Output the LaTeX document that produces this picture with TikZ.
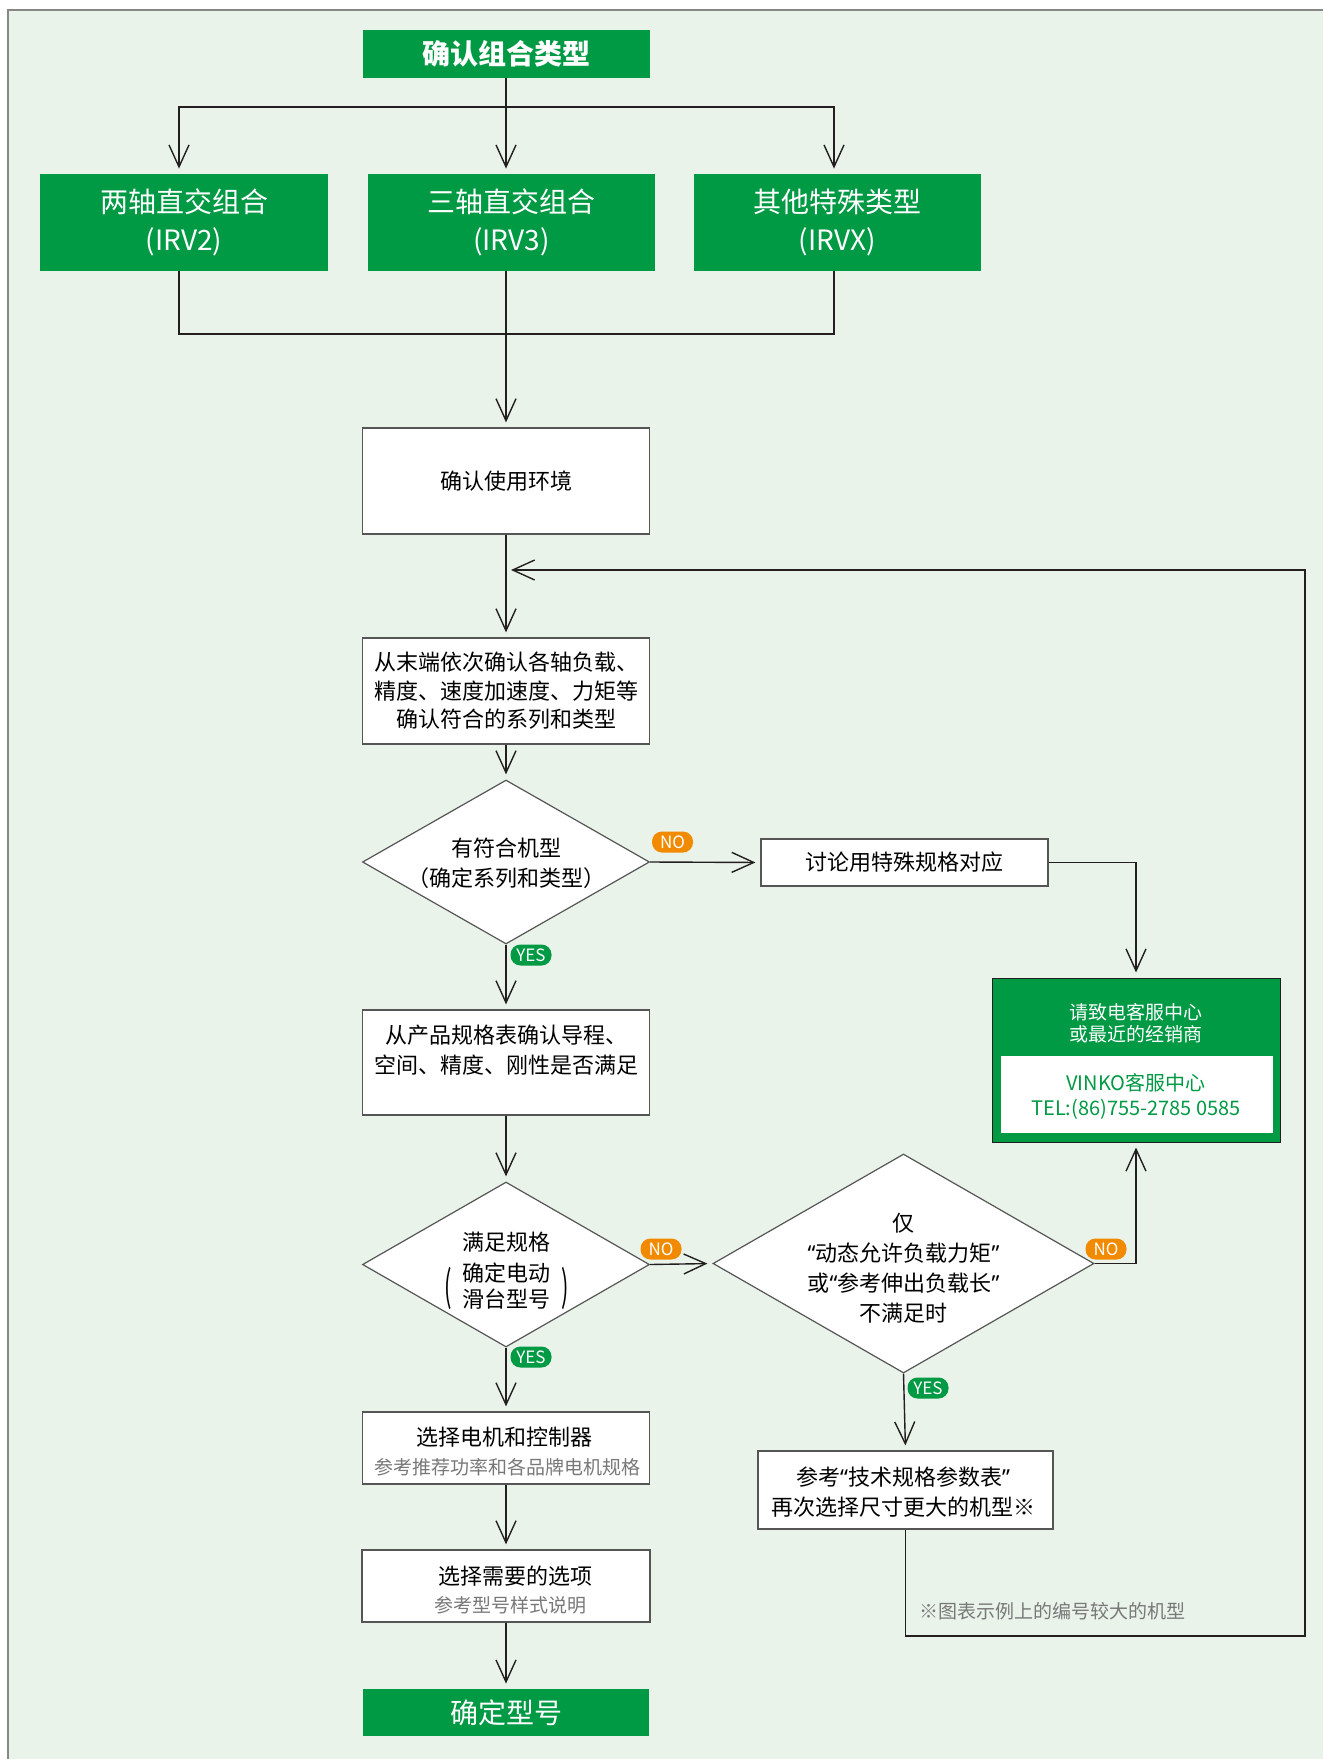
\documentclass[tikz,border=0pt]{standalone}
\usepackage{fontspec}
\setmainfont{Noto Sans CJK SC}
\newfontfamily\qfont{Noto Sans}
\usepackage{graphicx}
\usetikzlibrary{arrows.meta,shapes.geometric}
\definecolor{bggreen}{RGB}{233,243,233}
\definecolor{vgreen}{RGB}{0,153,68}
\definecolor{vorange}{RGB}{242,138,0}
\definecolor{framegray}{RGB}{135,135,135}
\definecolor{boxgray}{RGB}{85,85,85}
\definecolor{subgray}{RGB}{120,120,120}
\definecolor{linek}{RGB}{35,31,32}
\newcommand\myoq{{\qfont “}}
\newcommand\mycq{{\qfont ”}}
\begin{document}
\begin{tikzpicture}[x=0.5pt,y=-0.5pt,
  conn/.style={draw=linek,line width=0.7pt},
  arr/.style={conn,-{Straight Barb[length=11pt,width=10pt]},shorten >=2.5pt},
  wbox/.style={draw=boxgray,line width=0.6pt,fill=white,inner sep=0pt},
  gbox/.style={fill=vgreen,inner sep=0pt,text=white},
  dia/.style={diamond,draw=boxgray,line width=0.6pt,fill=white,inner sep=0pt},
  txt/.style={inner sep=0pt,align=center,font=\fontsize{11pt}{15pt}\selectfont},
  subtxt/.style={inner sep=0pt,align=center,text=subgray,font=\fontsize{9.5pt}{12pt}\selectfont},
  pill/.style={rounded corners=5pt,minimum width=20.5pt,minimum height=10.5pt,inner sep=0pt,text=white,font=\fontsize{8.5pt}{8.5pt}\selectfont},
  nolab/.style={pill,fill=vorange},
  yeslab/.style={pill,fill=vgreen}]
\useasboundingbox (0,0) rectangle (1323,1759);
\fill[bggreen] (8,10) rectangle (1323,1759);
\draw[framegray,line width=0.75pt] (8,1759) -- (8,10) -- (1323,10);

% top part
\node[gbox,minimum width=143.5pt,minimum height=24pt,font=\bfseries\fontsize{14pt}{14pt}\selectfont] (top) at (506,54) {确认组合类型};
\node[gbox,minimum width=144pt,minimum height=48.5pt,align=center,font=\fontsize{14pt}{19pt}\selectfont] (irv2) at (184,222.5) {两轴直交组合\\(IRV2)};
\node[gbox,minimum width=143.5pt,minimum height=48.5pt,align=center,font=\fontsize{14pt}{19pt}\selectfont] (irv3) at (511.5,222.5) {三轴直交组合\\(IRV3)};
\node[gbox,minimum width=143.5pt,minimum height=48.5pt,align=center,font=\fontsize{14pt}{19pt}\selectfont] (irvx) at (837.5,222.5) {其他特殊类型\\(IRVX)};

\coordinate (j1) at (506,107);
\coordinate (j2) at (506,334);
\draw[conn] (top.south) -- (j1);
\draw[arr] (j1) -| ([xshift=-2.5pt]irv2.north);
\draw[arr] (j1) -- ([xshift=-2.75pt]irv3.north);
\draw[arr] (j1) -| ([xshift=-1.75pt]irvx.north);
\draw[conn] ([xshift=-2.5pt]irv2.south) |- (j2);
\draw[conn] ([xshift=-1.75pt]irvx.south) |- (j2);
\draw[conn] ([xshift=-2.75pt]irv3.south) -- (j2);

% main column
\node[wbox,minimum width=143.5pt,minimum height=53pt,txt] (env) at (506,481) {确认使用环境};
\draw[arr] (j2) -- (env.north);

\node[wbox,minimum width=143.5pt,minimum height=53pt,txt,font=\fontsize{11pt}{14.3pt}\selectfont] (check) at (506,691) {从末端依次确认各轴负载、\\精度、速度加速度、力矩等\\确认符合的系列和类型};
\coordinate (loopin) at (506,570);
\draw[arr] (env.south) -- (check.north);

\node[dia,minimum width=143.5pt,minimum height=82pt] (d1) at (506,862) {};
\node[txt] (d1t) at (506,863) {有符合机型\\（确定系列和类型）};
\draw[arr] (check.south) -- (d1.north);

\node[wbox,minimum width=143.5pt,minimum height=23.5pt,txt] (disc) at (904.5,862.5) {讨论用特殊规格对应};
\draw[arr] (d1.east) -- (disc.west);
\node[nolab] (no1) at (672.5,842) {NO};

\node[fill=vgreen,draw=linek,line width=0.5pt,minimum width=144pt,minimum height=82pt,inner sep=0pt] (contact) at (1136,1060) {};
\node[fill=white,minimum width=136pt,minimum height=38.5pt,inner sep=0pt] (cwhite) at (1137,1094.5) {};
\node[inner sep=0pt,align=center,text=white,font=\fontsize{9.5pt}{11pt}\selectfont] (ctop) at (1136,1023) {请致电客服中心\\或最近的经销商};
\node[inner sep=0pt,align=center,text=vgreen,font=\fontsize{10pt}{12.5pt}\selectfont] (cbot) at (1136,1096) {VINKO客服中心\\TEL:(86)755-2785 0585};
\draw[arr] (disc.east) -| (contact.north);

\node[wbox,minimum width=143.5pt,minimum height=52.5pt] (prod) at (506,1062.5) {};
\node[txt] (prodt) at (506,1050) {从产品规格表确认导程、\\空间、精度、刚性是否满足};
\draw[arr] (d1.south) -- (prod.north);
\node[yeslab] (yes1) at (531,955) {YES};

\node[dia,minimum width=143.5pt,minimum height=82.5pt] (d2) at (506,1264.5) {};
\node[txt] (d2a) at (506,1242) {满足规格};
\node[txt,font=\fontsize{11pt}{13pt}\selectfont] (d2b) at (506,1286) {确定电动\\滑台型号};
\node[inner sep=0pt,font=\fontsize{11pt}{11pt}\selectfont] (d2l) at (448,1288) {\scalebox{1}[1.9]{(}};
\node[inner sep=0pt,font=\fontsize{11pt}{11pt}\selectfont] (d2r) at (565,1288) {\scalebox{1}[1.9]{)}};
\draw[arr] (prod.south) -- (d2.north);

\node[dia,minimum width=190.5pt,minimum height=109.5pt] (d3) at (903.5,1263.5) {};
\node[txt] (d3t) at (903.5,1268) {仅\\\myoq 动态允许负载力矩\mycq\\或\myoq 参考伸出负载长\mycq\\不满足时};
\draw[arr] (d2.east) -- (d3.west);
\node[nolab] (no2) at (661,1249) {NO};
\draw[arr] (d3.east) -| (contact.south);
\node[nolab] (no3) at (1106,1249) {NO};

\node[wbox,minimum width=143.5pt,minimum height=36pt] (motor) at (506,1448) {};
\node[txt] (motora) at (504,1437) {选择电机和控制器};
\node[subtxt] (motorb) at (507,1467) {参考推荐功率和各品牌电机规格};
\draw[arr] (d2.south) -- (motor.north);
\node[yeslab] (yes2) at (531,1357) {YES};

\node[wbox,minimum width=147.5pt,minimum height=39pt] (refb) at (905.5,1490) {};
\node[txt] (refbt) at (903,1492) {参考\myoq 技术规格参数表\mycq\\再次选择尺寸更大的机型※};
\draw[arr] (d3.south) -- (refb.north);
\node[yeslab] (yes3) at (928,1388) {YES};

\coordinate (lc1) at (1305,1636);
\draw[arr] (refb.south) |- (lc1) |- (loopin);
\node[subtxt] (note) at (1052.5,1611) {※图表示例上的编号较大的机型};

\node[wbox,minimum width=144pt,minimum height=36pt] (opt) at (506,1586) {};
\node[txt] (opta) at (515,1576) {选择需要的选项};
\node[subtxt] (optb) at (510,1605) {参考型号样式说明};
\draw[arr] (motor.south) -- (opt.north);

\node[gbox,minimum width=143pt,minimum height=23.5pt,font=\fontsize{14pt}{14pt}\selectfont] (final) at (506,1712.5) {确定型号};
\draw[arr] (opt.south) -- (final.north);
\end{tikzpicture}
\end{document}
